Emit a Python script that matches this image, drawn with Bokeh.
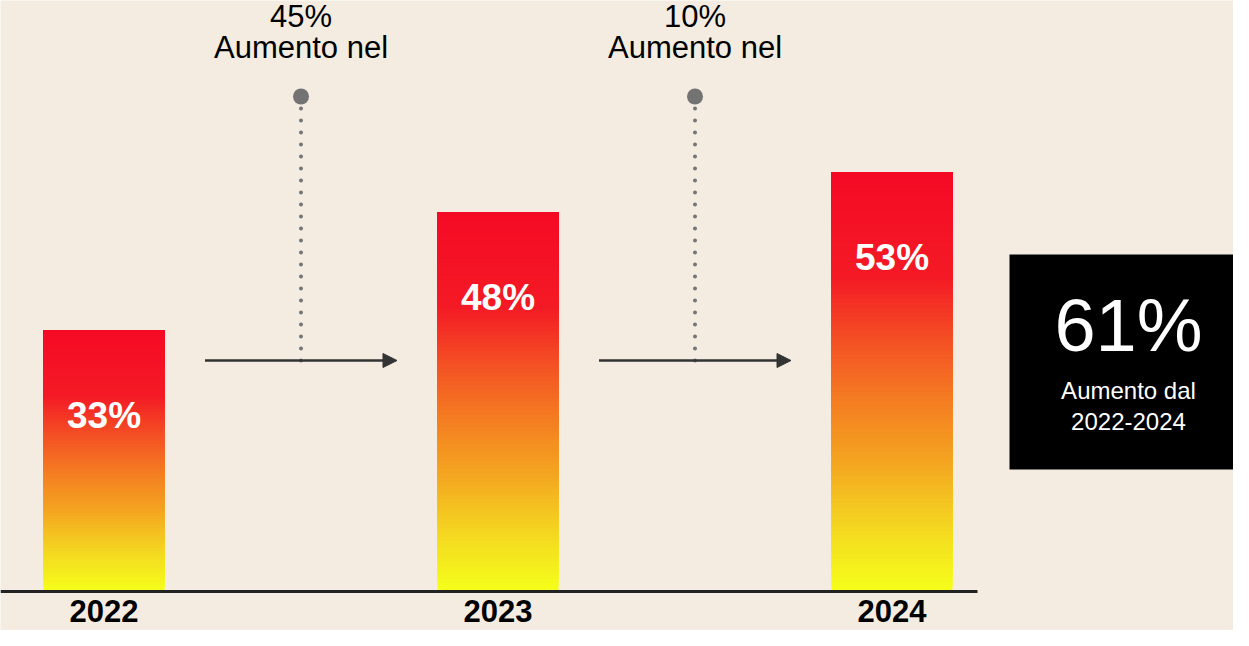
from bokeh.plotting import figure
from bokeh.models import Range1d, Arrow, NormalHead
from bokeh.core.properties import value
from bokeh.embed import file_html
from bokeh.resources import INLINE

# ---------------- data ----------------
years = ["2022", "2023", "2024"]
shares = [33, 48, 53]
share_labels = ["33%", "48%", "53%"]
growth_labels = ["45%", "10%"]
growth_caption = "Aumento nel"
total_label = "61%"
total_caption = ["Aumento dal", "2022-2024"]

# ---------------- styling / layout ----------------
BG = "#F4ECE0"
FONT = "Liberation Sans"
W, H = 1233, 630
STEP_PX = 394.0          # pixels between bar centres
PCT_PX = 7.9             # pixels per percentage point
FIRST_CENTER_PX = 103.5  # first bar centre from left edge
VSHIFT = 8               # vertical shift relative to reference layout
BASE_PX = 599.0 - VSHIFT # baseline from top edge

x_start = -FIRST_CENTER_PX / STEP_PX
x_end = x_start + W / STEP_PX
y_start = (BASE_PX - H) / PCT_PX
y_end = BASE_PX / PCT_PX


def px_x(px):
    return (px - FIRST_CENTER_PX) / STEP_PX


def px_y(ref_px):
    return (BASE_PX - (ref_px - VSHIFT)) / PCT_PX


p = figure(width=W, height=H,
           x_range=Range1d(x_start, x_end), y_range=Range1d(y_start, y_end),
           output_backend="svg", toolbar_location=None,
           x_axis_type=None, y_axis_type=None, min_border=0,
           background_fill_color=BG, border_fill_color=BG,
           outline_line_color=None)

# gradient stops (t = 0 bottom, 1 top)
stops_t = [0.0, 0.15, 0.3, 0.45, 0.6, 0.75, 1.0]
stops_c = ["#F5FF1A", "#F4D820", "#F4A820", "#F47E21", "#F45024", "#F41A25", "#F50A25"]


def hex2rgb(h):
    h = h.lstrip("#")
    return [int(h[i:i + 2], 16) for i in (0, 2, 4)]


def grad(t):
    for k in range(len(stops_t) - 1):
        if stops_t[k] <= t <= stops_t[k + 1]:
            f = (t - stops_t[k]) / (stops_t[k + 1] - stops_t[k])
            a, b = hex2rgb(stops_c[k]), hex2rgb(stops_c[k + 1])
            c = [round(a[j] + (b[j] - a[j]) * f) for j in range(3)]
            return "#%02X%02X%02X" % tuple(c)
    return stops_c[-1]


xs = list(range(len(years)))
BAR_W = 121 / STEP_PX
N = 90
left, right, bottom, top, colors = [], [], [], [], []
for i, v in zip(xs, shares):
    for k in range(N):
        left.append(i - BAR_W / 2)
        right.append(i + BAR_W / 2)
        bottom.append(v * k / N)
        top.append(v)
        colors.append(grad((k + 0.5) / N))
p.quad(left=left, right=right, bottom=bottom, top=top,
       fill_color=colors, line_color=None)

# bar value labels
p.text(x=xs, y=shares, text=share_labels, text_align="center",
       text_baseline="middle", y_offset=85,
       text_font=value(FONT), text_font_style="bold",
       text_font_size="37px", text_color="white")

# baseline
p.segment(x0=x_start, y0=0, x1=px_x(977), y1=0, line_width=3, line_color="#222222")

# year labels
p.text(x=xs, y=[0] * len(xs), text=years, text_align="center",
       text_baseline="middle", y_offset=19,
       text_font=value(FONT), text_font_style="bold",
       text_font_size="31px", text_color="black")

# growth annotations between bars
mids = [(a + b) / 2 for a, b in zip(xs[:-1], xs[1:])]
ARROW_Y = px_y(368)
DOT_Y = px_y(104)
HALF = 96 / STEP_PX
for m in mids:
    p.add_layout(Arrow(x_start=m - HALF, y_start=ARROW_Y, x_end=m + HALF, y_end=ARROW_Y,
                       line_width=2.5, line_color="#333333",
                       end=NormalHead(size=14, fill_color="#333333", line_color="#333333",
                                      line_width=1)))
p.segment(x0=mids, y0=[ARROW_Y] * len(mids), x1=mids, y1=[DOT_Y] * len(mids),
          line_width=4, line_color="#757575", line_dash="0 12", line_cap="round")
p.scatter(x=mids, y=[DOT_Y] * len(mids), size=16, fill_color="#737373", line_color=None)
p.text(x=mids, y=[px_y(23.5)] * len(mids), text=growth_labels, text_align="center",
       text_baseline="middle", text_font=value(FONT), text_font_size="31px",
       text_color="black")
p.text(x=mids, y=[px_y(54.5)] * len(mids), text=[growth_caption] * len(mids),
       text_align="center", text_baseline="middle", text_font=value(FONT),
       text_font_size="31px", text_color="black")

# total box
p.quad(left=px_x(1009), right=x_end + 0.1, top=px_y(262), bottom=px_y(477),
       fill_color="black", line_color=None)
BOX_CX = px_x(1128)
p.text(x=[BOX_CX], y=[px_y(333)], text=[total_label], text_align="center",
       text_baseline="middle", text_font=value(FONT), text_font_size="74px",
       text_color="white")
p.text(x=[BOX_CX, BOX_CX], y=[px_y(398), px_y(429)], text=total_caption,
       text_align="center", text_baseline="middle", text_font=value(FONT),
       text_font_size="24px", text_color="white")

open("out.html", "w").write(file_html(p, INLINE))
